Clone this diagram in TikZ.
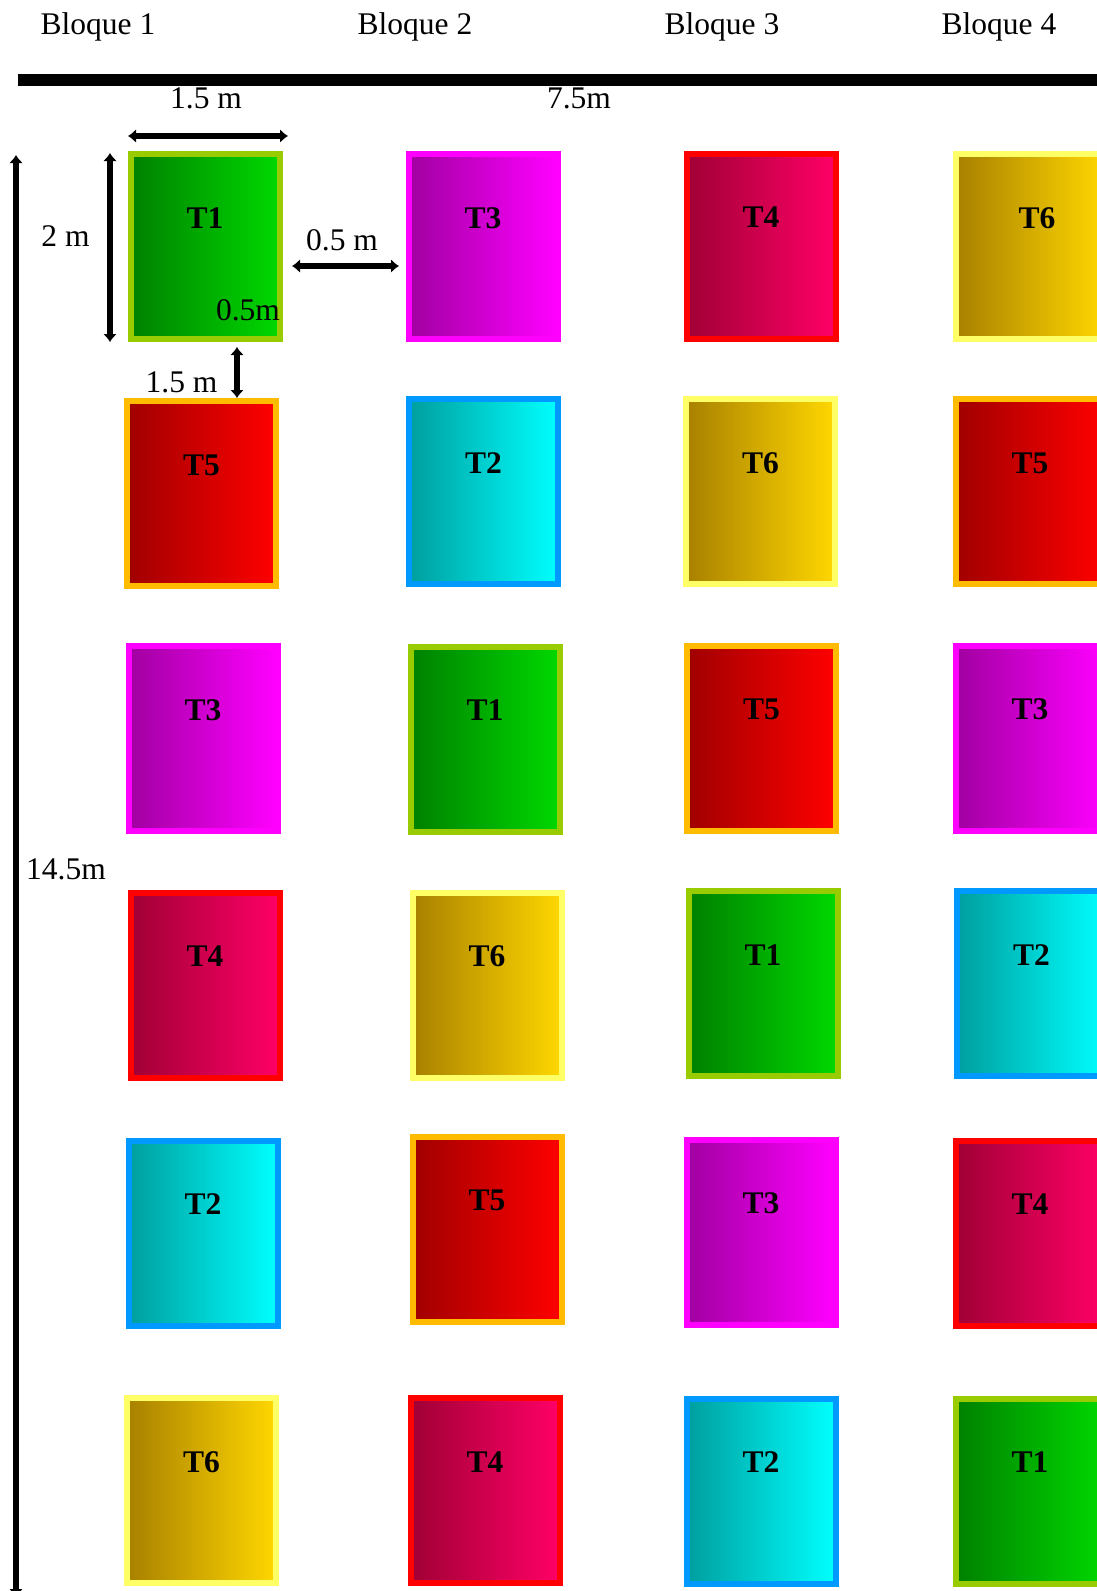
\documentclass[tikz,border=0pt]{standalone}
\usepackage{fontspec}
\setmainfont{Liberation Serif}
\usetikzlibrary{arrows.meta}

\definecolor{bordeA}{HTML}{99CC00}
\definecolor{bordeB}{HTML}{0099FF}
\definecolor{bordeC}{HTML}{FF00FF}
\definecolor{bordeD}{HTML}{FF0000}
\definecolor{bordeE}{HTML}{FFBB00}
\definecolor{bordeF}{HTML}{FFFF66}

\begin{document}
\begin{tikzpicture}[x=1pt,y=-1pt,
    txt/.style={font=\fontsize{31.5pt}{38pt}\selectfont, inner sep=0pt, anchor=base},
    tlabel/.style={font=\fontsize{31.5pt}{38pt}\selectfont\bfseries, inner sep=0pt},
    plot/.style={draw, line width=6pt, minimum width=149pt, minimum height=185pt, inner sep=0pt},
    trat1/.style={draw=bordeA, left color={rgb,255:red,0;green,128;blue,0}, right color={rgb,255:red,0;green,216;blue,0}},
    trat2/.style={draw=bordeB, left color={rgb,255:red,0;green,158;blue,158}, right color={rgb,255:red,0;green,255;blue,255}},
    trat3/.style={draw=bordeC, left color={rgb,255:red,160;green,0;blue,160}, right color={rgb,255:red,255;green,0;blue,255}},
    trat4/.style={draw=bordeD, left color={rgb,255:red,160;green,0;blue,53}, right color={rgb,255:red,255;green,0;blue,102}},
    trat5/.style={draw=bordeE, left color={rgb,255:red,160;green,0;blue,0}, right color={rgb,255:red,255;green,0;blue,0}},
    trat6/.style={draw=bordeF, left color={rgb,255:red,168;green,128;blue,0}, right color={rgb,255:red,255;green,215;blue,0}},
    dim/.style={line width=6.5pt, {Latex[length=8pt,width=14pt]}-{Latex[length=8pt,width=14pt]}}
]
\useasboundingbox (0,0) rectangle (1096,1591);

% block titles
\node[txt] (bq1) at (98,34.5) {Bloque 1};
\node[txt] (bq2) at (415,34.5) {Bloque 2};
\node[txt] (bq3) at (722,34.5) {Bloque 3};
\node[txt] (bq4) at (999,34.5) {Bloque 4};

% road / border line
\coordinate (ba) at (18,80);
\coordinate (bb) at (1100,80);
\draw[line width=12pt] (ba) -- (bb);

% plots
\foreach \n/\t/\x/\y/\dx in {
  11/1/205/246.5/0, 12/3/483/246.5/0, 13/4/761/246/0, 14/6/1030/246.5/7,
  21/5/201.5/493.5/0, 22/2/483.5/491.5/0, 23/6/760.5/491.5/0, 24/5/1030/491.5/0,
  31/3/203/738.5/0, 32/1/485/739/0, 33/5/761.5/738/0, 34/3/1030/738/0,
  41/4/205/985/0, 42/6/487/985/0, 43/1/763/983.5/0, 44/2/1031.5/983.5/0,
  51/2/203/1233/0, 52/5/487/1229/0, 53/3/761/1232/0, 54/4/1030/1233/0,
  61/6/201.5/1490.5/0, 62/4/485/1490.5/0, 63/2/761/1491/0, 64/1/1030/1491/0} {
  \node[plot, trat\t] (p\n) at (\x,\y) {};
  \node[tlabel] (l\n) at ([xshift=\dx pt, yshift=28.5pt]p\n.center) {T\t};
}

% dimensions
\node[txt] (d15a) at (206,108) {1.5 m};
\node[txt] (d75) at (579,108) {7.5m};
\node[txt] (d2) at (65.5,246.5) {2 m};
\node[txt] (d05a) at (342,250) {0.5 m};
\node[txt] (d05b) at (248,320.5) {0.5m};
\node[txt] (d15b) at (181.5,392.5) {1.5 m};
\node[txt] (d145) at (66,879) {14.5m};

\coordinate (wa) at (128,136);
\coordinate (wb) at (288,136);
\coordinate (ha) at (110,153);
\coordinate (hb) at (110,342);
\coordinate (ga) at (292,266);
\coordinate (gb) at (399,266);
\coordinate (ra) at (237,347);
\coordinate (rb) at (237,398);
\coordinate (la) at (16,155);
\coordinate (lb) at (16,1597);

\draw[dim] (wa) -- (wb);
\draw[dim] (ha) -- (hb);
\draw[dim] (ga) -- (gb);
\draw[dim] (ra) -- (rb);
\draw[dim] (la) -- (lb);
\end{tikzpicture}
\end{document}
